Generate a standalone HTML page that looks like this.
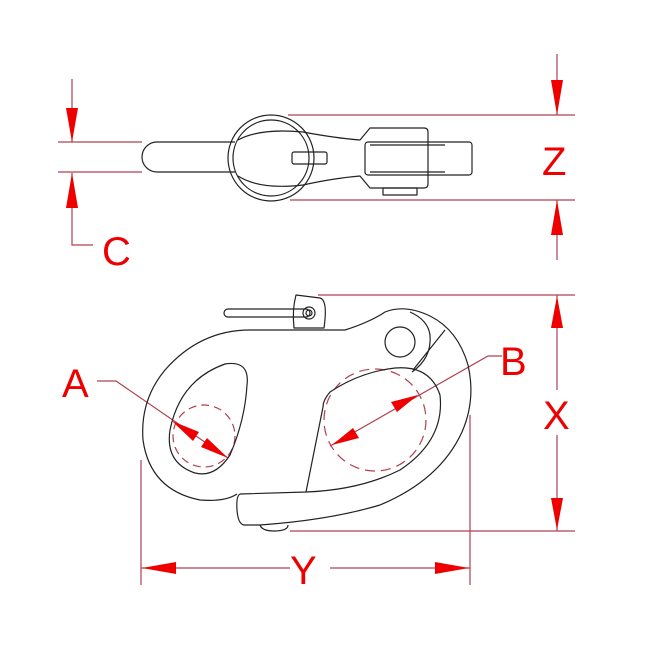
<!DOCTYPE html>
<html><head><meta charset="utf-8"><style>
html,body{margin:0;padding:0;background:#fff}
svg{display:block}
text{font-family:"Liberation Sans",sans-serif;fill:#e00}
</style></head><body>
<svg width="650" height="650" viewBox="0 0 650 650" xmlns="http://www.w3.org/2000/svg">
<g fill="none" stroke="#b04050" stroke-width="1.2">
<line x1="58" y1="142" x2="142" y2="142"/><line x1="58" y1="172" x2="142" y2="172"/>
<polyline points="72,79 72,142"/><polyline points="72,173 72,245 93,245"/>
<line x1="288" y1="115" x2="575" y2="115"/><line x1="290" y1="200" x2="575" y2="200"/>
<line x1="557" y1="54" x2="557" y2="115"/><line x1="557" y1="200" x2="557" y2="260"/>
<line x1="318" y1="295" x2="575" y2="295"/><line x1="290" y1="531" x2="575" y2="531"/>
<line x1="557" y1="295" x2="557" y2="390"/><line x1="557" y1="435" x2="557" y2="531"/>
<line x1="141" y1="460" x2="141" y2="585"/><line x1="470" y1="415" x2="470" y2="585"/>
<line x1="141" y1="568" x2="290" y2="568"/><line x1="330" y1="568" x2="470" y2="568"/>
<polyline points="97,381 116,381 228,458"/>
<polyline points="502,356 488,356 330,446"/>
<circle cx="204" cy="436" r="31" stroke-dasharray="8,5"/>
<circle cx="375" cy="420" r="51" stroke-dasharray="10,6"/>
</g>
<g fill="#e00" stroke="none">
<polygon points="66,108 78,108 72,142"/><polygon points="66,208 78,208 72,173"/>
<polygon points="551,80 563,80 557,115"/><polygon points="551,235 563,235 557,200"/>
<polygon points="551,328 563,328 557,296"/><polygon points="551,498 563,498 557,530"/>
<polygon points="142,568 176,562 176,574"/><polygon points="469,568 435,562 435,574"/>
<polygon points="172,421 199,432 193,441"/><polygon points="228,458 201,447 207,438"/>
<polygon points="332,445 353,428 359,438"/><polygon points="418,395 397,412 391,402"/>
</g>
<g fill="none" stroke="#222" stroke-width="1.2" stroke-linejoin="round">
<path d="M235,142 H157 A15,15 0 0 0 157,172 H235"/>
<circle cx="271" cy="158" r="43"/><circle cx="271" cy="158" r="38"/>
<path d="M238,140 Q260,128 303,132 Q335,138 360,140 L370,128 H424 Q428,128 428,132 V184 Q428,188 424,188 H370 L360,176 Q335,178 303,185 Q260,190 238,176"/>
<rect x="365" y="142" width="107" height="33" rx="3"/>
<path d="M370,145 H445 M370,172 H445"/>
<rect x="383" y="188" width="34" height="7"/>
<rect x="292" y="152" width="35" height="12" rx="2"/>
<path d="M228,309 H306 A4,4 0 0 1 306,317 H228 A4,4 0 0 1 228,309 Z"/>
<path d="M296,295 L320,298 Q328,300 324,328 L294,328 Q292,310 296,295 Z"/>
<circle cx="309" cy="313" r="6"/><circle cx="309" cy="313" r="3"/>
<path d="M250,330 H345 Q370,322 385,312 Q405,304 430,316 Q458,330 468,365 Q476,400 462,432 Q440,480 380,505 Q330,520 260,525"/>
<path d="M250,330 Q200,330 165,370 Q140,400 143,440 Q150,490 200,500 Q225,502 237,494"/>
<path d="M240,494 L306,492 Q360,490 400,470 Q445,440 440,395 Q430,365 395,368 Q360,372 330,392 Q323,400 323,407 L306,492"/>
<path d="M240,494 Q236,496 237,510 Q238,524 244,525 L260,525"/>
<path d="M260,525 Q262,531 274,531 Q288,531 288,525"/>
<circle cx="400" cy="342" r="15"/>
<path d="M412,372 Q432,358 430,335 Q428,320 410,312"/>
<line x1="413" y1="370" x2="445" y2="330"/>
<path d="M170,430 Q180,380 225,364 Q250,360 247,385 Q245,420 230,455 Q215,478 195,473 Q165,463 170,430 Z"/>
</g>
<g font-size="40">
<text x="102" y="265">C</text>
<text x="542" y="175">Z</text>
<text x="62" y="397">A</text>
<text x="500" y="375">B</text>
<text x="543" y="429">X</text>
<text x="290" y="584">Y</text>
</g>
</svg>
</body></html>
